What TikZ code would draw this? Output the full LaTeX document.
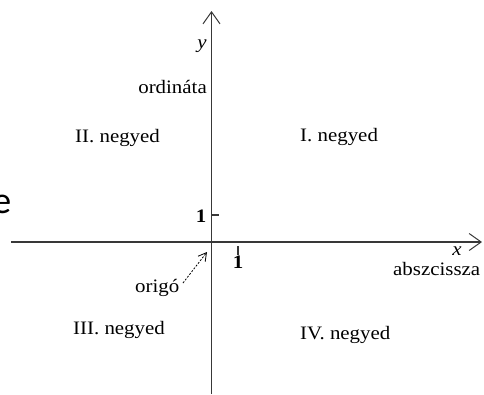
\documentclass[tikz,border=0pt]{standalone}
\usepackage{fontspec}
\setmainfont{Liberation Serif}[FakeStretch=1.1]
\newfontfamily\slidefont{Carlito}
\usetikzlibrary{arrows.meta}

\begin{document}
\begin{tikzpicture}[
        x=1pt, y=-1pt,
        axis/.style={
            line width=1.4pt,
            draw=black!78,
            -{Straight Barb[length=12pt, width=17pt, line width=1pt]}
        },
        tick/.style={line width=1.3pt, draw=black!78},
        txt/.style={font=\fontsize{19}{19}\selectfont, inner sep=0pt, anchor=base west},
        num/.style={font=\fontsize{19}{19}\selectfont\bfseries, inner sep=0pt, anchor=base},
        pointer/.style={
            line width=0.8pt,
            dash pattern=on 2pt off 1.5pt,
            -{Straight Barb[length=8pt, width=9pt, line width=0.8pt]}
        }
    ]
        \useasboundingbox (0,0) rectangle (484,394);

        % axes
        \coordinate (xstart) at (11,242);
        \coordinate (xend)   at (482,242);
        \coordinate (ystart) at (211.5,394);
        \coordinate (yend)   at (211.5,11);
        \draw[axis] (xstart) -- (xend);
        \draw[axis] (ystart) -- (yend);

        % unit ticks
        \coordinate (ytick) at (211.5,215);
        \coordinate (xtick) at (238,242);
        \draw[tick] (ytick) -- ++(7,0);
        \draw[tick] ([yshift=-4pt]xtick) -- ++(0,9);
        \node[num] (one y) at (201,222) {1};
        \node[num] (one x) at (238,268) {1};

        % axis names
        \node[txt, anchor=base] (ylab) at (202,48) {\itshape y};
        \node[txt, anchor=base east] (ordinata) at (207,93) {ordináta};
        \node[txt, anchor=base] (xlab) at (457,255) {\itshape x};
        \node[txt] (abszcissza) at (393,275) {abszcissza};

        % quadrants
        \node[txt] (q2) at (75,142) {II. negyed};
        \node[txt] (q1) at (300,141) {I. negyed};
        \node[txt] (q3) at (73,334) {III. negyed};
        \node[txt] (q4) at (300,339) {IV. negyed};

        % origin
        \node[txt] (origo) at (135,292) {origó};
        \coordinate (arrstart) at (183,283);
        \coordinate (arrend) at (207,252);
        \draw[pointer] (arrstart) -- (arrend);

        % cut-off letter at the left edge
        \node[font=\slidefont\fontsize{38}{38}\selectfont, inner sep=0pt, anchor=base east] (edge e) at (11.5,213) {e};
\end{tikzpicture}
\end{document}
